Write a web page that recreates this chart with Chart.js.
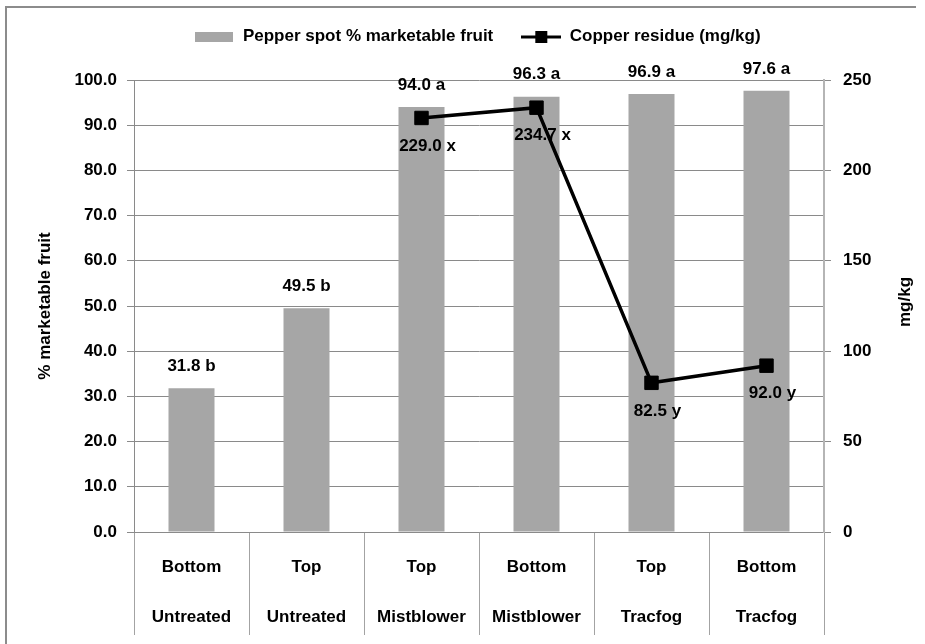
<!DOCTYPE html>
<html><head><meta charset="utf-8">
<script src="https://cdn.jsdelivr.net/npm/chart.js@4/dist/chart.umd.min.js"></script>
<style>html,body{margin:0;padding:0;background:#fff;} canvas{display:block;}</style>
</head><body><canvas id="c" width="925" height="644"></canvas>
<script>
// ---- data ----
const positions = ['Bottom', 'Top', 'Top', 'Bottom', 'Top', 'Bottom'];
const treatments = ['Untreated', 'Untreated', 'Mistblower', 'Mistblower', 'Tracfog', 'Tracfog'];
const marketable = [31.8, 49.5, 94.0, 96.3, 96.9, 97.6];
const marketableLetters = ['b', 'b', 'a', 'a', 'a', 'a'];
const copper = [null, null, 229.0, 234.7, 82.5, 92.0];
const copperLetters = [null, null, 'x', 'x', 'y', 'y'];
const seriesNames = ['Pepper spot % marketable fruit', 'Copper residue (mg/kg)'];
const axisTitles = ['% marketable fruit', 'mg/kg'];

// ---- style ----
const FONT = "'Liberation Sans', Arial, sans-serif";
Chart.defaults.font.family = FONT;
Chart.defaults.font.size = 17;
Chart.defaults.font.weight = 'bold';
Chart.defaults.color = '#000';
const BAR = '#A6A6A6';
const GRID = '#8a8a8a';

function makeSwatch(w, h, draw) {
  const cv = document.createElement('canvas');
  cv.width = w; cv.height = h;
  draw(cv.getContext('2d'));
  return cv;
}
const barSwatch = makeSwatch(38, 10, g => { g.fillStyle = BAR; g.fillRect(0, 0, 38, 10); });
const lineSwatch = makeSwatch(40, 12, g => {
  g.fillStyle = '#000';
  g.fillRect(0, 5, 40, 3);
  g.fillRect(14, 0, 12, 12);
});

const labels = positions.map((p, i) => [p, treatments[i]]);

const legendHeight = {
  id: 'legendHeight',
  beforeInit(chart) {
    const fit = chart.legend.fit;
    chart.legend.fit = function () { fit.call(this); this.height = 80; };
  }
};

const frame = {
  id: 'frame',
  beforeDraw(chart) {
    const c = chart.ctx;
    c.save();
    c.strokeStyle = '#8c8c8c';
    c.lineWidth = 2;
    c.beginPath();
    c.moveTo(6, 644); c.lineTo(6, 7); c.lineTo(916, 7);
    c.stroke();
    c.restore();
  }
};

const valueLabels = {
  id: 'valueLabels',
  afterDatasetsDraw(chart) {
    const c = chart.ctx;
    c.save();
    c.font = 'bold 17px ' + FONT;
    c.fillStyle = '#000';
    c.textAlign = 'center';
    c.textBaseline = 'middle';
    const barMeta = chart.getDatasetMeta(1);
    barMeta.data.forEach((el, i) => {
      c.fillText(marketable[i].toFixed(1) + ' ' + marketableLetters[i], el.x, el.y - 22);
    });
    const lineMeta = chart.getDatasetMeta(0);
    lineMeta.data.forEach((el, i) => {
      if (copper[i] == null) return;
      c.fillText(copper[i].toFixed(1) + ' ' + copperLetters[i], el.x + 6, el.y + 28);
    });
    c.restore();
  }
};

const rightTitle = {
  id: 'rightTitle',
  afterDraw(chart) {
    const c = chart.ctx;
    const a = chart.chartArea;
    c.save();
    c.font = 'bold 17px ' + FONT;
    c.fillStyle = '#000';
    c.textAlign = 'center';
    c.textBaseline = 'middle';
    c.translate(905, (a.top + a.bottom) / 2 - 4);
    c.rotate(-Math.PI / 2);
    c.fillText(axisTitles[1], 0, 0);
    c.restore();
  }
};

new Chart(document.getElementById('c'), {
  type: 'bar',
  data: {
    labels: labels,
    datasets: [
      {
        type: 'line', label: seriesNames[1], data: copper, yAxisID: 'y2',
        borderColor: '#000', backgroundColor: '#000', borderWidth: 3.5,
        pointStyle: 'rect', pointRadius: 9.5, pointBorderWidth: 1,
        pointBackgroundColor: '#000', pointBorderColor: '#000', order: 0
      },
      {
        type: 'bar', label: seriesNames[0], data: marketable, yAxisID: 'y',
        backgroundColor: BAR, barPercentage: 0.4, categoryPercentage: 1.0, order: 1
      }
    ]
  },
  options: {
    responsive: false,
    animation: false,
    layout: { padding: { left: 30, right: 0, top: 0, bottom: 9 } },
    plugins: {
      tooltip: { enabled: false },
      legend: {
        position: 'top', align: 'center',
        labels: {
          usePointStyle: true, pointStyleWidth: 40, padding: 28,
          font: { size: 17, weight: 'bold' }, color: '#000',
          generateLabels() {
            return [
              { text: seriesNames[0], pointStyle: barSwatch, fillStyle: BAR, strokeStyle: BAR, lineWidth: 0, hidden: false, datasetIndex: 1, fontColor: '#000' },
              { text: seriesNames[1], pointStyle: lineSwatch, fillStyle: '#000', strokeStyle: '#000', lineWidth: 0, hidden: false, datasetIndex: 0, fontColor: '#000' }
            ];
          }
        }
      }
    },
    scales: {
      x: {
        grid: { offset: true, drawOnChartArea: false, drawTicks: true, tickLength: 103, color: '#a3a3a3', lineWidth: 1 },
        border: { color: GRID, width: 1 },
        ticks: { padding: -93, maxRotation: 0, autoSkip: false, font: { size: 17, weight: 'bold', lineHeight: '50px' } },
        afterFit(s) { s.height = 103; }
      },
      y: {
        position: 'left', min: 0, max: 100,
        ticks: { stepSize: 10, padding: 10, callback: v => Number(v).toFixed(1) },
        grid: { color: GRID, tickLength: 7, lineWidth: 1 },
        border: { color: GRID, width: 1 },
        title: { display: true, text: axisTitles[0], padding: { top: 5, bottom: 0 }, font: { size: 17, weight: 'bold' } },
        afterFit(s) { s.width = 104; }
      },
      y2: {
        position: 'right', min: 0, max: 250,
        ticks: { stepSize: 50, padding: 12 },
        grid: { drawOnChartArea: false, tickLength: 7, color: GRID },
        border: { color: '#b5b5b5', width: 2 },
        afterFit(s) { s.width = 101; }
      }
    }
  },
  plugins: [legendHeight, frame, valueLabels, rightTitle]
});
</script>
</body></html>
